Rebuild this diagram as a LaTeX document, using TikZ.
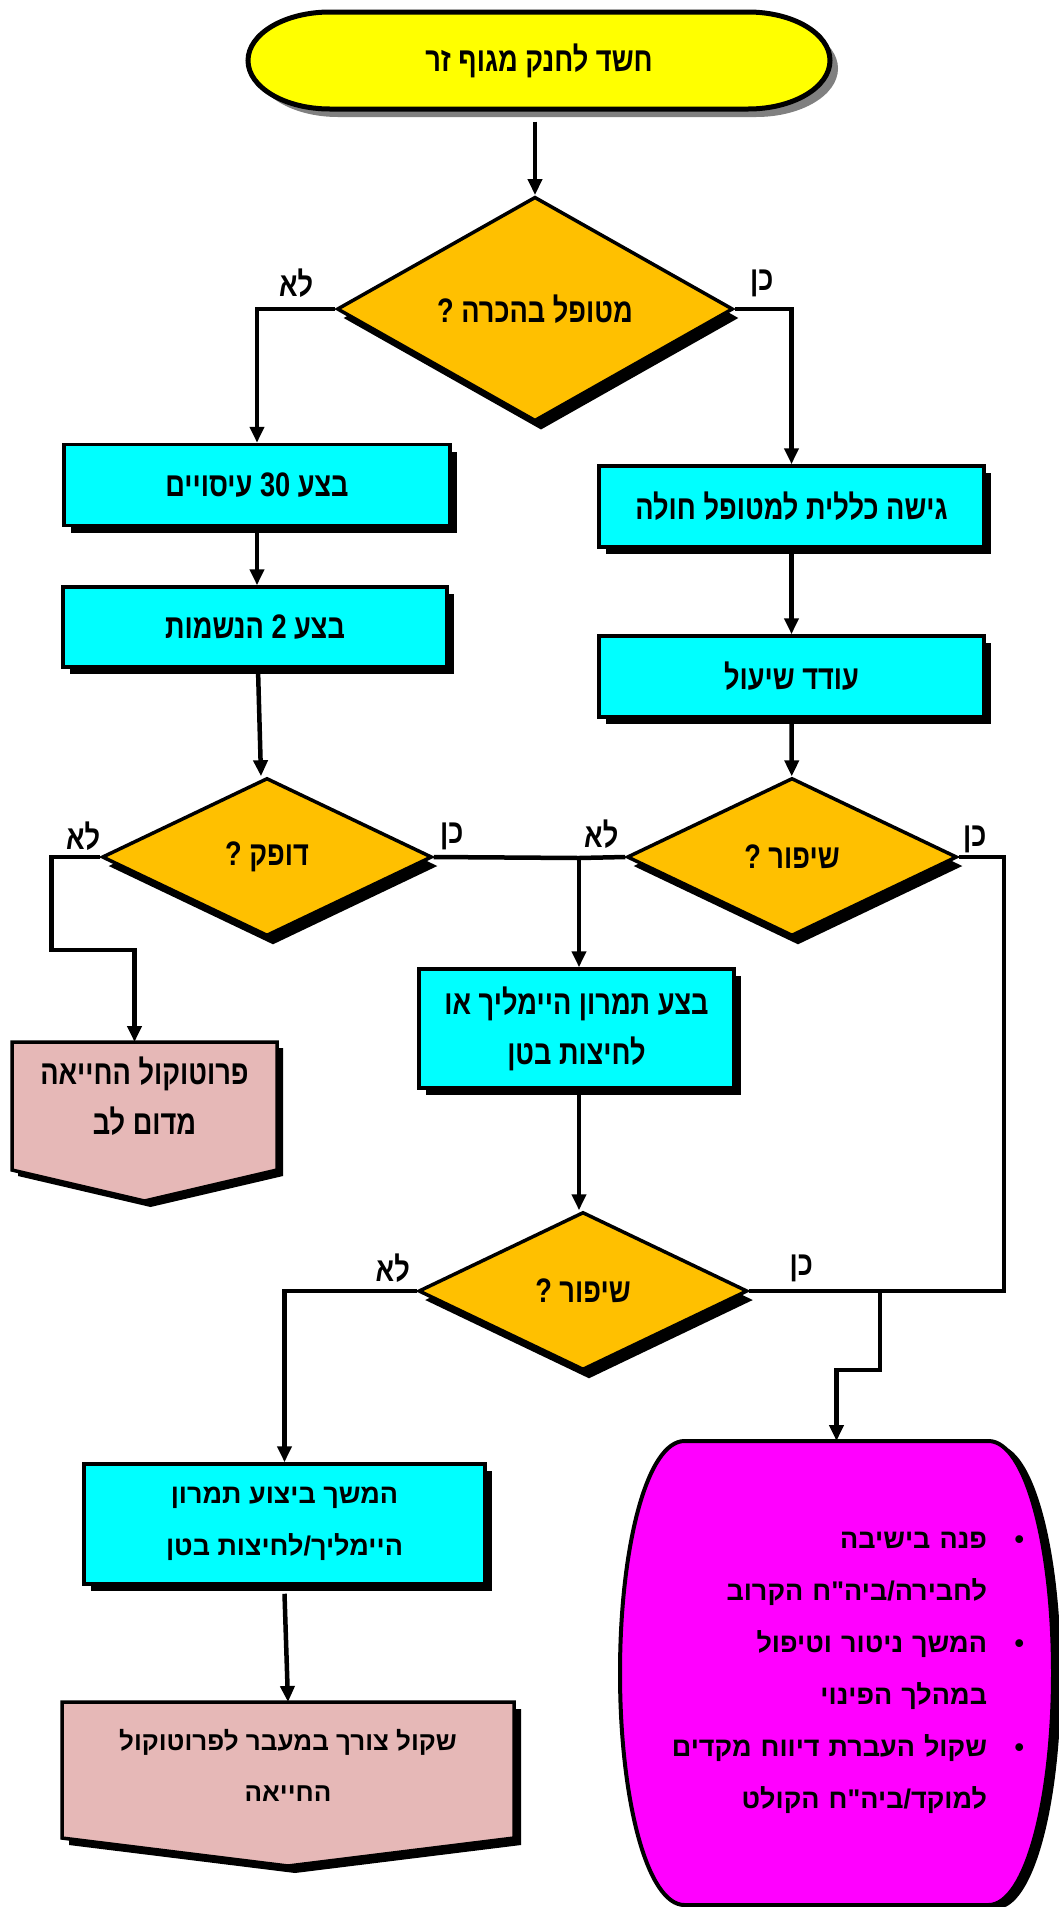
\documentclass[tikz,border=0pt]{standalone}
\usepackage{fontspec}
\usepackage{tikz}
\usetikzlibrary{arrows.meta,shapes.geometric,shadows,positioning,backgrounds}
\newfontfamily\hebwide[Script=Hebrew]{Liberation Sans}
\newfontfamily\hebnarrow[Script=Hebrew,FakeStretch=0.8]{Liberation Sans}
\TeXXeTstate=1

\definecolor{actioncyan}{RGB}{0,255,255}
\definecolor{questionorange}{RGB}{255,192,0}
\definecolor{startyellow}{RGB}{255,255,0}
\definecolor{cprpink}{RGB}{230,184,183}
\definecolor{advicemagenta}{RGB}{255,0,255}
\definecolor{startgray}{RGB}{128,128,128}

\newcommand{\rtl}[1]{\beginR #1\endR}

\tikzset{
    flow/.style={line width=4.5pt,-{Triangle[length=16pt,width=14pt]}},
    link/.style={line width=4.5pt},
    narrowtxt/.style={font=\hebnarrow\bfseries\fontsize{34}{50}\selectfont},
    widetxt/.style={font=\hebwide\bfseries\fontsize{27}{52}\selectfont},
    offshadow/.style={preaction={fill=black,transform canvas={xshift=#1,yshift=-#1}}},
    action/.style={rectangle,draw,line width=3.5pt,fill=actioncyan,align=center,inner sep=0pt,narrowtxt,
        drop shadow={shadow xshift=7pt,shadow yshift=-7pt,fill=black,opacity=1}},
    question/.style={diamond,draw,line width=3.5pt,fill=questionorange,inner sep=0pt,narrowtxt,
        drop shadow={shadow xshift=6pt,shadow yshift=-9pt,fill=black,opacity=1}},
    answer/.style={narrowtxt,inner sep=0pt},
    holder/.style={align=center,inner sep=0pt,outer sep=0pt},
}

\begin{document}
\begin{tikzpicture}[x=1pt,y=-1pt]
    \useasboundingbox (0,0) rectangle (1059,1907);

    % start
    \filldraw[fill=startyellow,line width=5pt,preaction={fill=startgray,transform canvas={xshift=8pt,yshift=-8pt}}]
        (330,12) -- (748,12) arc[start angle=90,end angle=-90,x radius=82pt,y radius=48.5pt]
        -- (330,109) arc[start angle=270,end angle=90,x radius=82pt,y radius=48.5pt] -- cycle;
    \node[holder,narrowtxt,minimum width=582pt,minimum height=97pt] (start) at (539,61) {\rtl{חשד לחנק מגוף זר}};

    % decisions
    \node[question,minimum width=396pt,minimum height=183pt] (conscious) at (535,309) {\rtl{מטופל בהכרה ?}};
    \node[question,minimum width=330pt,minimum height=158pt] (pulse) at (267,857) {\rtl{דופק ?}};
    \node[question,minimum width=330pt,minimum height=158pt] (better) at (792,857) {\rtl{שיפור ?}};
    \node[question,minimum width=329pt,minimum height=158pt] (betteragain) at (583,1291) {\rtl{שיפור ?}};

    % actions
    \node[action,minimum width=386pt,minimum height=81pt] (compress) at (257,485) {\rtl{בצע \beginL30\endL{} עיסויים}};
    \node[action,minimum width=384pt,minimum height=80pt] (breaths) at (255,627) {\rtl{בצע \beginL2\endL{} הנשמות}};
    \node[action,minimum width=385pt,minimum height=81pt] (approach) at (791.5,506.5) {\rtl{גישה כללית למטופל חולה}};
    \node[action,minimum width=385pt,minimum height=81pt] (cough) at (791.5,676.5) {\rtl{עודד שיעול}};
    \node[action,minimum width=315pt,minimum height=119pt] (heimlich) at (576.5,1028.5) {\rtl{בצע תמרון היימליך או}\\\rtl{לחיצות בטן}};
    \node[action,widetxt,minimum width=401pt,minimum height=120pt] (keepon) at (284.5,1524) {\rtl{המשך ביצוע תמרון}\\\rtl{היימליך/לחיצות בטן}};

    % exits
    \node[holder,narrowtxt,minimum width=265pt,minimum height=108pt] (cpr) at (144.5,1096) {\rtl{פרוטוקול החייאה}\\\rtl{מדום לב}};
    \node[holder,font=\hebwide\bfseries\fontsize{26}{51}\selectfont,minimum width=452pt,minimum height=126pt] (consider) at (288,1765) {\rtl{שקול צורך במעבר לפרוטוקול}\\\rtl{החייאה}};
    \node[holder,widetxt,align=right,text width=375pt,minimum width=433pt,minimum height=464pt] (advice) at (836.5,1673) {%
        \rtl{פנה בישיבה}\makebox[37pt][r]{\textbullet}\\
        \rtl{לחבירה/ביה"ח הקרוב}\makebox[37pt]{}\\
        \rtl{המשך ניטור וטיפול}\makebox[37pt][r]{\textbullet}\\
        \rtl{במהלך הפינוי}\makebox[37pt]{}\\
        \rtl{שקול העברת דיווח מקדים}\makebox[37pt][r]{\textbullet}\\
        \rtl{למוקד/ביה"ח הקולט}\makebox[37pt]{}};

    \begin{scope}[on background layer]
        \filldraw[fill=cprpink,line width=3.5pt,offshadow=6pt]
            (cpr.north west) -- (cpr.north east) -- ++(0,128) -- ([yshift=-159pt]cpr.north)
            -- ([yshift=-128pt]cpr.north west) -- cycle;
        \filldraw[fill=cprpink,line width=3.5pt,offshadow=7pt]
            (consider.north west) -- (consider.north east) -- ++(0,136) -- ([yshift=-164pt]consider.north)
            -- ([yshift=-136pt]consider.north west) -- cycle;
        \filldraw[fill=advicemagenta,line width=4pt,preaction={fill=black,transform canvas={xshift=8pt,yshift=-4pt}}]
            ([xshift=-152pt]advice.north) -- ([xshift=152pt]advice.north)
            .. controls +(37pt,0pt) and +(0pt,128pt) .. (advice.east)
            .. controls +(0pt,-128pt) and +(37pt,0pt) .. ([xshift=152pt]advice.south)
            -- ([xshift=-152pt]advice.south)
            .. controls +(-37pt,0pt) and +(0pt,-128pt) .. (advice.west)
            .. controls +(0pt,128pt) and +(-37pt,0pt) .. ([xshift=-152pt]advice.north) -- cycle;
    \end{scope}

    % answers
    \node[answer] (no1) at ([shift={(-39pt,26pt)}]conscious.west) {\rtl{לא}};
    \node[answer] (yes1) at ([shift={(27pt,26pt)}]conscious.east) {\rtl{כן}};
    \node[answer] (no2) at ([shift={(-17pt,21pt)}]pulse.west) {\rtl{לא}};
    \node[answer] (yes2) at ([shift={(18pt,21pt)}]pulse.east) {\rtl{כן}};
    \node[answer] (no3) at ([shift={(-24pt,23pt)}]better.west) {\rtl{לא}};
    \node[answer] (yes3) at ([shift={(16pt,18pt)}]better.east) {\rtl{כן}};
    \node[answer] (no4) at ([shift={(-24pt,23pt)}]betteragain.west) {\rtl{לא}};
    \node[answer] (yes4) at ([shift={(52pt,23pt)}]betteragain.east) {\rtl{כן}};

    \coordinate (merge) at (579,858);
    \coordinate (split) at (880,1291);

    \draw[flow] ([yshift=-12pt]start.south -| conscious.north) -- (conscious.north);
    \draw[flow] (conscious.west) -| (compress.north);
    \draw[flow] (conscious.east) -| (approach.north);
    \draw[flow] (compress.south) -- (compress.south |- breaths.north);
    \draw[flow] (approach) -- (cough);
    \draw[flow] ([xshift=3pt]breaths.south) -- ([xshift=6pt]breaths.south |- pulse.north);
    \draw[flow] (cough) -- (better);
    \draw[flow] (pulse.west) -- ++(-49pt,0pt) |- ([xshift=-10pt,yshift=92pt]cpr.north) -- ([xshift=-10pt]cpr.north);
    \draw[link] (pulse.east) -- (merge);
    \draw[link] (better.west) -- (merge);
    \draw[flow] (merge) -- (merge |- heimlich.north);
    \draw[flow] (merge |- heimlich.south) -- (merge |- betteragain.north);
    \draw[link] (better.east) -- ++(45pt,0pt) |- (betteragain.east);
    \draw[flow] (split) -- ++(0,79) -| (advice.north);
    \draw[flow] (betteragain.west) -| (keepon.north);
    \draw[flow] ([yshift=-8pt]keepon.south) -- (consider.north);
\end{tikzpicture}
\end{document}
